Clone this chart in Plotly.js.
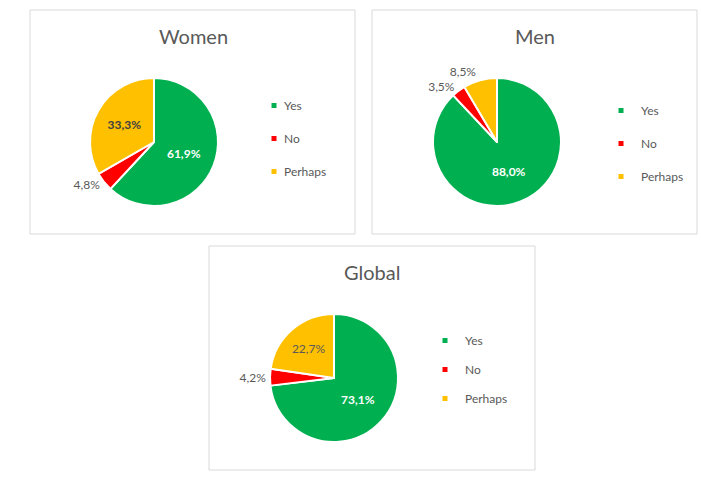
<!DOCTYPE html>
<html><head><meta charset="utf-8">
<script src="https://cdn.plot.ly/plotly-3.0.1.min.js"></script>
<style>html,body{margin:0;padding:0;background:#fff}#chart{width:701px;height:482px}</style>
</head><body><div id="chart"></div>
<script>
const labels = ["Yes", "No", "Perhaps"];
const women = [61.9, 4.8, 33.3];
const men = [88.0, 3.5, 8.5];
const global = [73.1, 4.2, 22.7];
const titles = ["Women", "Men", "Global"];
const colors = ["#00B050", "#FF0000", "#FFC000"];

const W = 701, H = 482;
const FONT = "Lato, 'Open Sans', sans-serif";
const GRAY = "#595959";
function dom(cx, cy, r) {
  return {x: [(cx - r) / W, (cx + r) / W], y: [1 - (cy + r) / H, 1 - (cy - r) / H]};
}
function pie(vals, d, legend, group, pos, tmpl, insideColors) {
  return {
    type: "pie", labels: labels, values: vals, sort: false, direction: "clockwise", rotation: 0,
    marker: {colors: colors, line: {color: "#ffffff", width: 2}},
    textposition: pos, texttemplate: tmpl,
    insidetextfont: {color: insideColors, size: 12, family: FONT},
    outsidetextfont: {color: GRAY, size: 12, family: FONT},
    textfont: {size: 12, family: FONT},
    domain: d, legend: legend, legendgroup: group, hoverinfo: "label+percent", showlegend: true
  };
}
const P = "%{percent:.1%}", B = "<b>%{percent:.1%}</b>";
const data = [
  pie(women, dom(154, 142, 64), "legend", "w", ["inside", "outside", "inside"], [B, P, B], ["#ffffff", GRAY, "#404040"]),
  pie(men, dom(497, 142, 64), "legend2", "m", ["inside", "outside", "outside"], [B, P, P], ["#ffffff", GRAY, GRAY]),
  pie(global, dom(334, 378, 64), "legend3", "g", ["inside", "outside", "inside"], [B, P, P], ["#ffffff", GRAY, "#595959"])
];
function leg(x, y) {
  return {x: x / W, y: 1 - y / H, xanchor: "left", yanchor: "top", bgcolor: "rgba(0,0,0,0)",
    font: {size: 12, color: GRAY, family: FONT}, itemclick: false, tracegroupgap: 0};
}
function rect(x0, y0, x1, y1) {
  return {type: "rect", xref: "paper", yref: "paper", x0: x0 / W, x1: x1 / W, y0: 1 - y1 / H, y1: 1 - y0 / H,
    line: {color: "#D9D9D9", width: 1}, fillcolor: "rgba(0,0,0,0)", layer: "below"};
}
function ttl(t, x, y) {
  return {text: t, x: x / W, y: 1 - y / H, xref: "paper", yref: "paper", showarrow: false,
    font: {size: 20, color: GRAY, family: FONT}, xanchor: "center", yanchor: "middle"};
}
const layout = {
  width: W, height: H, margin: {l: 0, r: 0, t: 0, b: 0},
  paper_bgcolor: "#ffffff", separators: ",.",
  font: {family: FONT, color: GRAY},
  legend: leg(254, 91), legend2: leg(601, 96), legend3: leg(425, 326),
  shapes: [rect(30, 10, 355, 234), rect(372, 10, 697, 234), rect(209, 246, 535, 470)],
  annotations: [ttl(titles[0], 193, 36), ttl(titles[1], 535, 36), ttl(titles[2], 372, 272)]
};
const gaps = [33, 33, 29];
Plotly.newPlot("chart", data, layout, {displayModeBar: false, staticPlot: true}).then(function (gd) {
  // style tweaks: hide outside-label connector lines, compact legend markers, Excel-like item spacing
  gd.querySelectorAll("path.textline").forEach(function (p) { p.style.display = "none"; });
  const legs = gd.querySelectorAll("g.infolayer > g[class^='legend']");
  legs.forEach(function (lg, k) {
    lg.querySelectorAll("[clip-path]").forEach(function (e) { e.removeAttribute("clip-path"); });
    const items = lg.querySelectorAll("g.traces");
    let y0 = null;
    items.forEach(function (it, i) {
      const m = /translate\(([-\d.]+),\s*([-\d.]+)\)/.exec(it.getAttribute("transform") || "");
      const x = m ? parseFloat(m[1]) : 0, y = m ? parseFloat(m[2]) : 0;
      if (y0 === null) y0 = y;
      it.setAttribute("transform", "translate(" + x + "," + (y0 + i * gaps[k % 3]) + ")");
      it.querySelectorAll(".legendpoints path").forEach(function (p) {
        const tr = p.getAttribute("transform") || "";
        p.setAttribute("transform", tr + " scale(0.5)");
      });
      const t = it.querySelector("text.legendtext");
      if (t) t.setAttribute("x", 30);
    });
  });
});
</script></body></html>
